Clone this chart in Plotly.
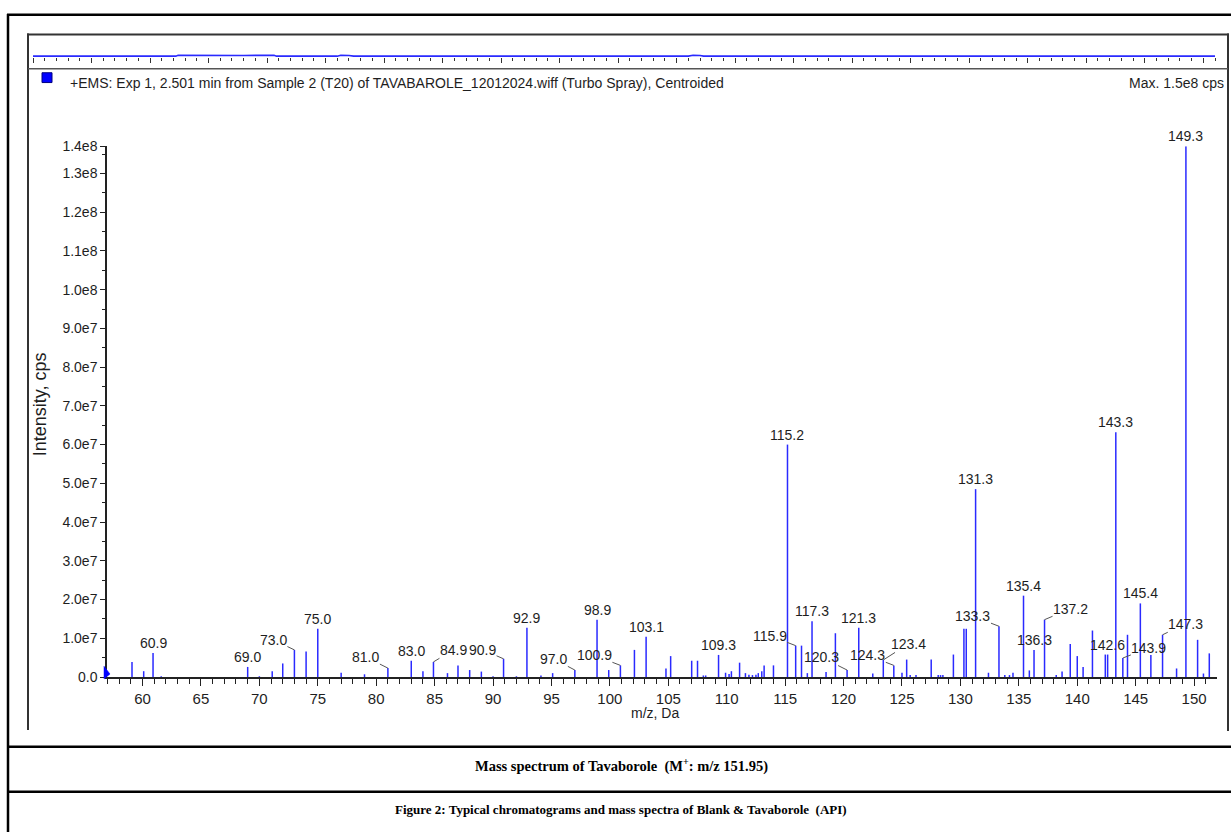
import plotly.graph_objects as go

# ---------------- data ----------------
mz = [59.1, 60.1, 60.9, 61.6, 69.0, 70.0, 71.1, 72.0, 73.0, 74.0, 75.0, 77.0, 79.0,
      81.0, 83.0, 84.0, 84.9, 86.1, 87.0, 88.0, 89.0, 90.0, 90.9, 92.0, 92.9, 94.1,
      95.1, 97.0, 98.9, 99.9, 100.9, 102.1, 103.1, 104.8, 105.2, 107.0, 107.5, 108.0,
      108.2, 109.3, 109.9, 110.2, 110.4, 111.1, 111.6, 111.9, 112.2, 112.5, 112.7,
      113.0, 113.2, 114.0, 115.2, 115.9, 116.4, 116.9, 117.3, 118.5, 119.3, 120.3,
      121.3, 122.5, 123.4, 124.3, 125.0, 125.4, 125.7, 126.2, 127.5, 128.1, 128.3,
      128.5, 129.4, 130.3, 130.5, 131.3, 132.4, 133.3, 133.8, 134.2, 134.5, 135.4,
      135.9, 136.3, 137.2, 138.2, 138.7, 139.4, 140.0, 140.5, 141.3, 142.4, 142.6,
      143.3, 143.9, 144.3, 145.4, 146.3, 147.3, 148.5, 149.3, 150.3, 150.8, 151.3]
intensity = [3.9e6, 1.5e6, 6.2e6, 0.2e6, 2.6e6, 0.2e6, 1.5e6, 3.5e6, 7.0e6, 6.6e6, 1.245e7,
             1.1e6, 0.7e6, 2.3e6, 4.2e6, 1.5e6, 3.9e6, 1.0e6, 3.0e6, 1.8e6, 1.4e6, 0.2e6,
             4.7e6, 0.2e6, 1.27e7, 0.4e6, 1.0e6, 1.8e6, 1.48e7, 1.8e6, 3.0e6, 7.0e6, 1.04e7,
             2.2e6, 5.4e6, 4.2e6, 4.2e6, 0.4e6, 0.4e6, 5.7e6, 1.1e6, 0.8e6, 1.5e6, 3.7e6,
             1.0e6, 0.6e6, 0.5e6, 0.6e6, 1.0e6, 1.5e6, 3.0e6, 3.0e6, 6.0e7, 8.1e6, 8.1e6,
             1.0e6, 1.44e7, 1.3e6, 1.13e7, 1.8e6, 1.27e7, 0.9e6, 4.4e6, 3.0e6, 1.1e6, 4.5e6,
             0.5e6, 0.5e6, 4.5e6, 0.5e6, 0.5e6, 0.5e6, 5.8e6, 1.245e7, 1.245e7, 4.85e7,
             1.1e6, 1.31e7, 0.5e6, 0.5e6, 1.1e6, 2.1e7, 1.7e6, 7.0e6, 1.48e7, 0.5e6, 1.4e6,
             8.5e6, 5.4e6, 2.6e6, 1.2e7, 5.8e6, 5.8e6, 6.32e7, 4.9e6, 1.09e7, 1.9e7, 5.7e6,
             1.09e7, 2.2e6, 1.37e8, 9.6e6, 0.9e6, 6.1e6]

# peaks that carry an m/z label
labeled_mz = [60.9, 69.0, 73.0, 75.0, 81.0, 83.0, 84.9, 90.9, 92.9, 97.0, 98.9, 100.9,
              103.1, 109.3, 115.2, 115.9, 117.3, 120.3, 121.3, 123.4, 124.3, 131.3,
              133.3, 135.4, 136.3, 137.2, 142.6, 143.3, 143.9, 145.4, 147.3, 149.3]
label_text = ["60.9", "69.0", "73.0", "75.0", "81.0", "83.0", "84.9", "90.9", "92.9",
              "97.0", "98.9", "100.9", "103.1", "109.3", "115.2", "115.9", "117.3",
              "120.3", "121.3", "123.4", "124.3", "131.3", "133.3", "135.4", "136.3",
              "137.2", "142.6", "143.3", "143.9", "145.4", "147.3", "149.3"]

x_tick_vals = [60, 65, 70, 75, 80, 85, 90, 95, 100, 105, 110, 115, 120, 125, 130, 135, 140, 145, 150]
y_tick_vals = [0, 1e7, 2e7, 3e7, 4e7, 5e7, 6e7, 7e7, 8e7, 9e7, 1e8, 1.1e8, 1.2e8, 1.3e8, 1.37e8]
y_tick_text = ["0.0", "1.0e7", "2.0e7", "3.0e7", "4.0e7", "5.0e7", "6.0e7", "7.0e7", "8.0e7",
               "9.0e7", "1.0e8", "1.1e8", "1.2e8", "1.3e8", "1.4e8"]

# TIC overview strip (arbitrary scan units)
tic_scan = [0, 12.2, 12.4, 14.0, 16.0, 18.0, 20.6, 20.8, 26.0, 26.3, 27.0, 27.4,
            56.0, 56.4, 57.0, 57.3, 101]
tic_level = [0, 0, 0.10, 0.08, 0.10, 0.08, 0.10, 0, 0, 0.10, 0.08, 0, 0, 0.10, 0.08, 0, 0]

header_text = "+EMS: Exp 1, 2.501 min from Sample 2 (T20) of TAVABAROLE_12012024.wiff (Turbo Spray), Centroided"
max_text = "Max. 1.5e8 cps"
caption1 = "Mass spectrum of Tavaborole  (M<sup>+</sup>: m/z 151.95)"
caption2 = "Figure 2: Typical chromatograms and mass spectra of Blank &amp; Tavaborole  (API)"

# ---------------- style / layout ----------------
W, H = 1231, 840
X_RANGE = [56.96, 151.96]
Y_RANGE = [0, 1.37e8]
BLUE = "#2a2aff"
SANS = "Liberation Sans, Arial, sans-serif"
SERIF = "Liberation Serif, Times New Roman, serif"
TXT = "#1e1e1e"
LBL = 14

# label offsets in pixels (dx, dy) for labels with leader lines
leader_offsets = {
    73.0: (-21, -10), 81.0: (-22, -11), 84.9: (20, -12), 90.9: (-21, -9),
    97.0: (-21, -11), 100.9: (-26, -10), 115.9: (-26, -10), 120.3: (-26, -13),
    124.3: (-26, -10), 123.4: (25, -16), 133.3: (-26, -10), 137.2: (26, -11),
    143.9: (26, -10), 147.3: (23, -11),
}


def fx(p):
    return p / W


def fy(p):
    return 1 - p / H


stick_x, stick_y = [], []
for m, v in zip(mz, intensity):
    stick_x += [m, m, None]
    stick_y += [0, v, None]

fig = go.Figure()
fig.add_trace(go.Scatter(x=stick_x, y=stick_y, mode="lines",
                         line=dict(color=BLUE, width=1.5), hoverinfo="skip",
                         xaxis="x", yaxis="y", showlegend=False))
fig.add_trace(go.Scatter(x=tic_scan, y=tic_level, mode="lines",
                         line=dict(color=BLUE, width=1.6), hoverinfo="skip",
                         xaxis="x2", yaxis="y2", showlegend=False, cliponaxis=False))

annotations = []
lookup = dict(zip(mz, intensity))
for m, t in zip(labeled_mz, label_text):
    v = lookup[m]
    if m in leader_offsets:
        dx, dy = leader_offsets[m]
        annotations.append(dict(x=m, y=v, xref="x", yref="y", text=t, showarrow=True,
                                ax=dx, ay=dy, arrowhead=0, arrowwidth=1, arrowcolor="#555",
                                standoff=0, borderpad=0,
                                font=dict(family=SANS, size=LBL, color=TXT)))
    else:
        annotations.append(dict(x=m, y=v, xref="x", yref="y", text=t, showarrow=False,
                                yanchor="middle", yshift=10,
                                font=dict(family=SANS, size=LBL, color=TXT)))

annotations += [
    dict(x=fx(68), y=fy(76), xref="paper", yref="paper", text=header_text, showarrow=False,
         xanchor="left", yanchor="middle", font=dict(family=SANS, size=14, color=TXT)),
    dict(x=fx(1226), y=fy(76), xref="paper", yref="paper", text=max_text, showarrow=False,
         xanchor="right", yanchor="middle", font=dict(family=SANS, size=14, color=TXT)),
    dict(x=fx(40), y=fy(404), xref="paper", yref="paper", text="Intensity, cps", showarrow=False,
         textangle=-90, xanchor="center", yanchor="middle",
         font=dict(family=SANS, size=18, color=TXT)),
    dict(x=fx(655), y=fy(719), xref="paper", yref="paper", text="m/z, Da", showarrow=False,
         xanchor="center", yanchor="middle", font=dict(family=SANS, size=14, color=TXT)),
    dict(x=fx(621), y=fy(772), xref="paper", yref="paper", text="<b>" + caption1 + "</b>",
         showarrow=False, xanchor="center", yanchor="middle",
         font=dict(family=SERIF, size=14.5, color="#000")),
    dict(x=fx(621), y=fy(817), xref="paper", yref="paper", text="<b>" + caption2 + "</b>",
         showarrow=False, xanchor="center", yanchor="middle",
         font=dict(family=SERIF, size=13, color="#000")),
]


def hline(y, x0, x1, w, c):
    return dict(type="line", xref="paper", yref="paper", x0=fx(x0), x1=fx(x1),
                y0=fy(y), y1=fy(y), line=dict(color=c, width=w))


def vline(x, y0, y1, w, c):
    return dict(type="line", xref="paper", yref="paper", x0=fx(x), x1=fx(x),
                y0=fy(y0), y1=fy(y1), line=dict(color=c, width=w))


shapes = [
    hline(7, 7, 1231, 2.5, "#000"),
    vline(8, 6, 840, 2.5, "#000"),
    hline(27, 27, 1229, 2, "#333"),
    vline(28, 26, 736, 2, "#333"),
    vline(1228, 26, 737, 2, "#333"),
    hline(62, 28, 1228, 1.5, "#555"),
    hline(753, 7, 1231, 2.5, "#000"),
    hline(799, 7, 1231, 2.5, "#000"),
    dict(type="rect", xref="paper", yref="paper", x0=fx(42), x1=fx(52), y0=fy(76), y1=fy(66),
         fillcolor="#0000ff", line=dict(color="#000080", width=1)),
    dict(type="path", xref="paper", yref="paper",
         path=f"M{fx(104)},{fy(671)} L{fx(110)},{fy(679)} L{fx(104)},{fy(684)} Z",
         fillcolor="#0000ff", line=dict(color="#0000ff", width=0.5)),
]

fig.update_layout(
    width=W, height=H, margin=dict(l=0, r=0, t=0, b=0),
    paper_bgcolor="white", plot_bgcolor="white", showlegend=False,
    xaxis=dict(domain=[fx(107), fx(1217)], range=X_RANGE, anchor="y",
               showline=True, linecolor="#222", linewidth=1.5, showgrid=False, zeroline=False,
               ticks="outside", ticklen=7, tickwidth=1, tickcolor="#222",
               tickmode="array", tickvals=x_tick_vals,
               tickfont=dict(family=SANS, size=15, color=TXT),
               minor=dict(tickmode="linear", tick0=0, dtick=1, ticklen=5, tickcolor="#222",
                          showgrid=False)),
    yaxis=dict(domain=[fy(682), fy(141)], range=Y_RANGE, anchor="x",
               showline=True, linecolor="#222", linewidth=1.5, showgrid=False, zeroline=False,
               ticks="outside", ticklen=5, tickwidth=1, tickcolor="#222",
               tickmode="array", tickvals=y_tick_vals, ticktext=y_tick_text,
               tickfont=dict(family=SANS, size=14, color=TXT),
               minor=dict(tickmode="linear", tick0=0, dtick=5e6, ticklen=3, tickcolor="#222",
                          showgrid=False)),
    xaxis2=dict(domain=[fx(33), fx(1215)], range=[0, 101], anchor="y2",
                showline=False, showgrid=False, zeroline=False, showticklabels=False,
                ticks="outside", ticklen=5, tickwidth=1, tickcolor="#333",
                tickmode="linear", tick0=0, dtick=5,
                minor=dict(tickmode="linear", tick0=0, dtick=1, ticklen=3, tickcolor="#333",
                           showgrid=False)),
    yaxis2=dict(domain=[fy(50), fy(40)], range=[-0.1, 1], anchor="x2", visible=False),
    annotations=annotations,
    shapes=shapes,
)

fig.write_html("out.html")
